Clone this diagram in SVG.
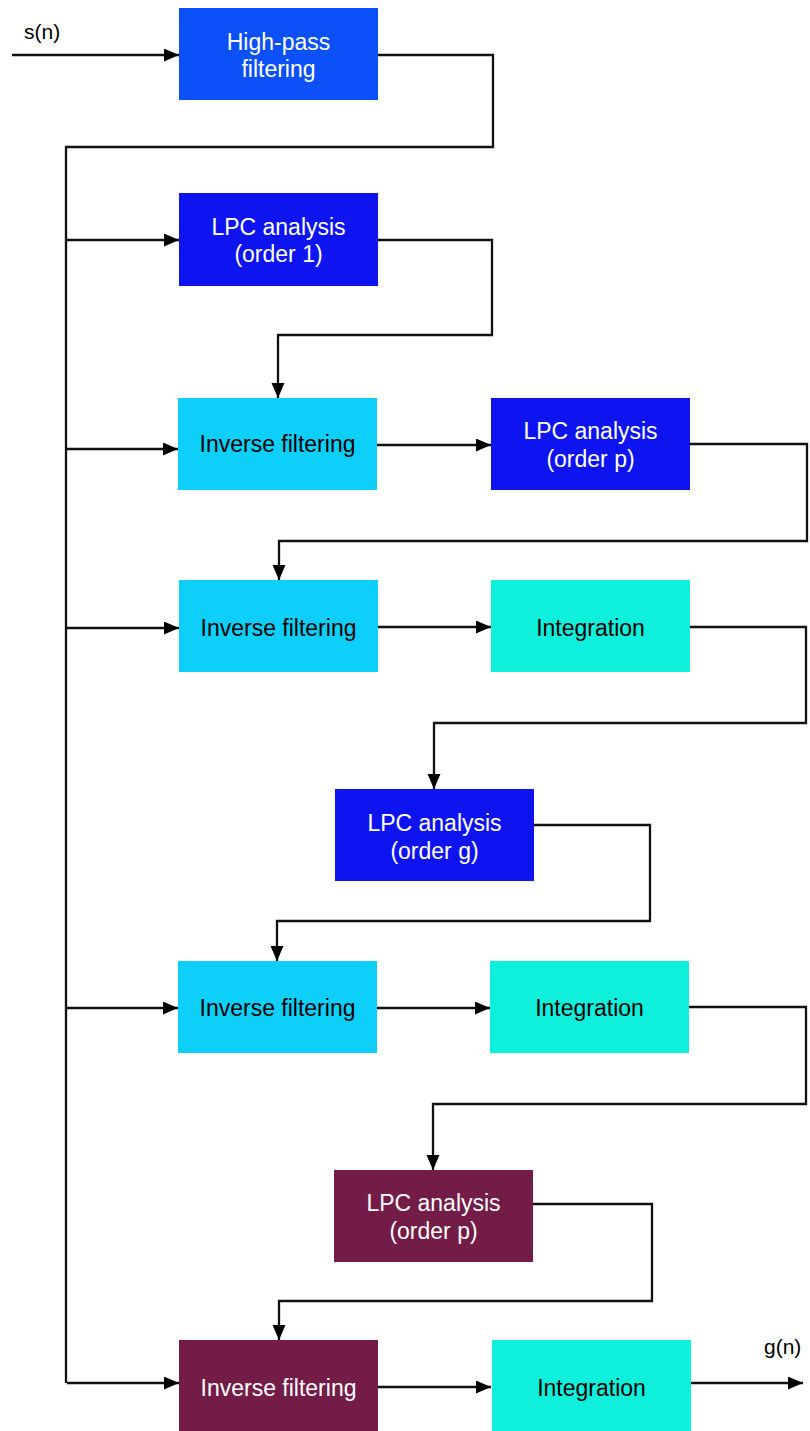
<svg xmlns="http://www.w3.org/2000/svg" width="810" height="1431" viewBox="0 0 810 1431">
<style>
.t{font-family:"Liberation Sans",Arial,sans-serif;font-size:23px;text-anchor:middle;dominant-baseline:central}
.w{fill:#ffffff}
.k{fill:#000000}
.lbl{font-family:"Liberation Sans",Arial,sans-serif;font-size:21px;fill:#000}
.hp{fill:#0C50FA}
.lpc{fill:#0E14F0}
.inv{fill:#0DCFF9}
.int{fill:#0EF0DC}
.mar{fill:#731C47}
.c{fill:none;stroke:#111;stroke-width:2.3}
.a{marker-end:url(#ah)}
</style>
<defs>
<marker id="ah" markerUnits="userSpaceOnUse" markerWidth="16" markerHeight="14" refX="15" refY="6.5" orient="auto">
<path d="M0,0 L15,6.5 L0,13 Z" fill="#000"/>
</marker>
</defs>
<rect width="810" height="1431" fill="#fff"/>
<g id="connectors">
<path class="c a" d="M12,55 H179"/>
<path class="c" d="M378,55 H493 V147 H66 V1383"/>
<path class="c a" d="M67,240 H179"/>
<path class="c a" d="M67,449 H178"/>
<path class="c a" d="M67,628 H179"/>
<path class="c a" d="M67,1008 H178"/>
<path class="c a" d="M67,1383 H179"/>
<path class="c a" d="M378,240 H492 V335 H278 V398"/>
<path class="c a" d="M377,445 H491"/>
<path class="c a" d="M690,444 H807 V541 H279 V580"/>
<path class="c a" d="M378,627 H491"/>
<path class="c a" d="M690,627 H806 V723 H434 V789"/>
<path class="c a" d="M534,825 H650 V921 H277 V961"/>
<path class="c a" d="M377,1008 H490"/>
<path class="c a" d="M689,1007 H806 V1104 H433 V1170"/>
<path class="c a" d="M533,1204 H652 V1301 H279 V1340"/>
<path class="c a" d="M378,1387 H491"/>
<path class="c a" d="M691,1383 H803"/>
<text class="lbl" x="24" y="39">s(n)</text>
<text class="lbl" x="764" y="1354">g(n)</text>
</g>
<g id="highpass"><rect class="hp" x="179" y="8" width="199" height="92"/><text class="t w" x="278.5" y="42">High-pass</text><text class="t w" x="278.5" y="69">filtering</text></g>
<g id="lpc1"><rect class="lpc" x="179" y="193" width="199" height="93"/><text class="t w" x="278.5" y="227">LPC analysis</text><text class="t w" x="278.5" y="254">(order 1)</text></g>
<g id="inv1"><rect class="inv" x="178" y="398" width="199" height="92"/><text class="t k" x="277.5" y="444">Inverse filtering</text></g>
<g id="lpcp1"><rect class="lpc" x="491" y="398" width="199" height="92"/><text class="t w" x="590.5" y="431">LPC analysis</text><text class="t w" x="590.5" y="459">(order p)</text></g>
<g id="inv2"><rect class="inv" x="179" y="580" width="199" height="92"/><text class="t k" x="278.5" y="628">Inverse filtering</text></g>
<g id="int1"><rect class="int" x="491" y="580" width="199" height="92"/><text class="t k" x="590.5" y="628">Integration</text></g>
<g id="lpcg"><rect class="lpc" x="335" y="789" width="199" height="92"/><text class="t w" x="434.5" y="823">LPC analysis</text><text class="t w" x="434.5" y="851">(order g)</text></g>
<g id="inv3"><rect class="inv" x="178" y="961" width="199" height="92"/><text class="t k" x="277.5" y="1008">Inverse filtering</text></g>
<g id="int2"><rect class="int" x="490" y="961" width="199" height="92"/><text class="t k" x="589.5" y="1008">Integration</text></g>
<g id="lpcp2"><rect class="mar" x="334" y="1170" width="199" height="92"/><text class="t w" x="433.5" y="1203">LPC analysis</text><text class="t w" x="433.5" y="1231">(order p)</text></g>
<g id="inv4"><rect class="mar" x="179" y="1340" width="199" height="92"/><text class="t w" x="278.5" y="1388">Inverse filtering</text></g>
<g id="int3"><rect class="int" x="492" y="1340" width="199" height="92"/><text class="t k" x="591.5" y="1388">Integration</text></g>
</svg>
